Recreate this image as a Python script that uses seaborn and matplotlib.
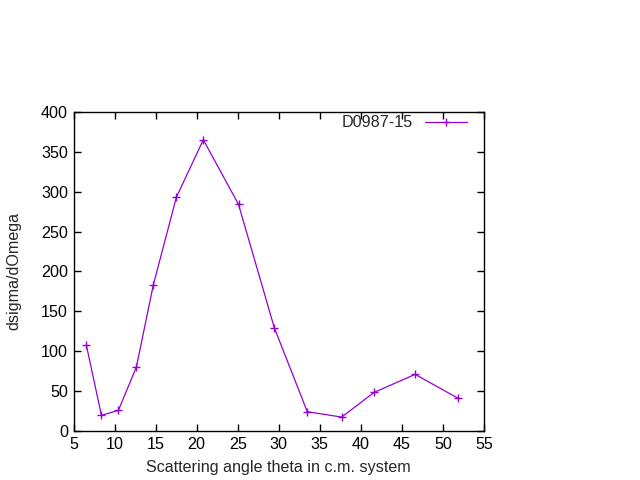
import matplotlib
matplotlib.use('Agg')
import matplotlib.pyplot as plt
import seaborn as sns
import pandas as pd

# scattering data
theta = [6.56, 8.39, 10.46, 12.65, 14.72, 17.52, 20.81, 25.1,
         29.46, 33.48, 37.67, 41.64, 46.63, 51.87]
dsigma = [107.4, 19.7, 25.9, 80.2, 183.3, 292.8, 365.0, 284.0,
          129.5, 24.2, 17.5, 48.5, 71.0, 41.0]
series_name = 'D0987-15'

df = pd.DataFrame({'theta': theta, 'dsigma': dsigma, 'set': series_name})

sns.set_style('ticks')
plt.rcParams['font.family'] = ['Liberation Sans', 'DejaVu Sans']

fig = plt.figure(figsize=(6.4, 4.8), dpi=100)
ax = fig.add_axes([0.115, 0.102, 0.641, 0.665])

sns.lineplot(data=df, x='theta', y='dsigma', hue='set', palette=['#9400d3'],
             marker='+', markersize=6, markeredgewidth=1, linewidth=0.9,
             markeredgecolor='#9400d3', ax=ax)

ax.set_xlim(5, 55)
ax.set_ylim(0, 400)
ax.set_xticks(range(5, 56, 5))
ax.set_yticks(range(0, 401, 50))
ax.tick_params(direction='in', top=True, right=True, length=5, width=1,
               labelsize=11.6, colors='black', pad=4)
for s in ax.spines.values():
    s.set_linewidth(1)
    s.set_color('black')

ax.set_xlabel('Scattering angle theta in c.m. system', fontsize=11.6, labelpad=6)
ax.set_ylabel('dsigma/dOmega', fontsize=11.6, labelpad=14)

# gnuplot-style key: text first, then sample line
leg = ax.legend(loc='upper right', bbox_to_anchor=(0.963, 0.994), frameon=False,
                markerfirst=False, fontsize=11.6, handlelength=2.6,
                handletextpad=0.8, borderaxespad=0, borderpad=0.1)
leg.set_title(None)

fig.savefig('out.png', dpi=100)
